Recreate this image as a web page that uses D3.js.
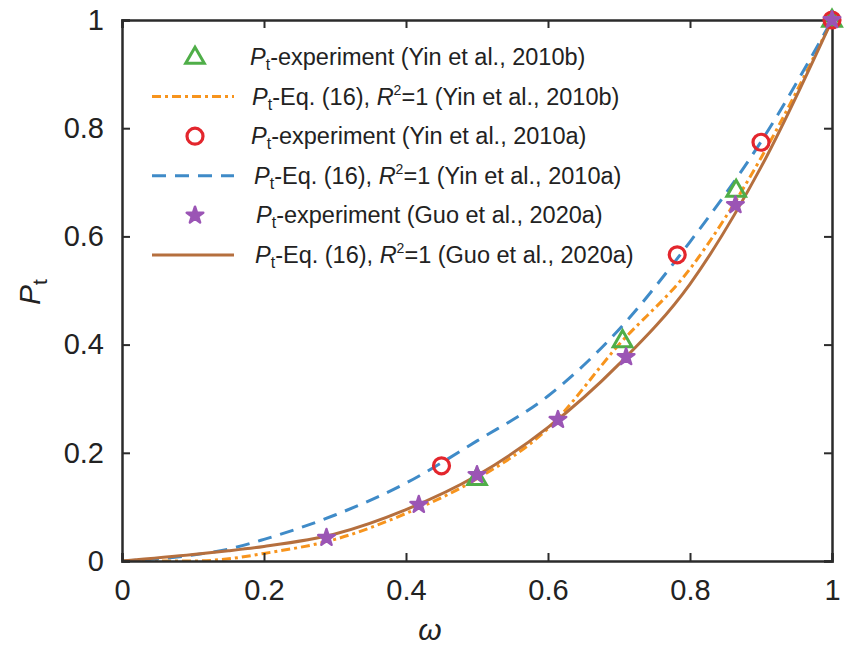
<!DOCTYPE html>
<html>
<head>
<script src="https://cdn.jsdelivr.net/npm/d3@7"></script>
<style>
  body { margin: 0; background: #fff; }
  text { font-family: "Liberation Sans", Arial, sans-serif; fill: #222; }
</style>
</head>
<body>
<div id="chart"></div>
<script>
// experiment points
const triOmega = [0.5, 0.705, 0.865, 1.0];
const triP     = [0.153, 0.408, 0.686, 1.0];
const circOmega = [0.45, 0.782, 0.90, 1.0];
const circP     = [0.176, 0.566, 0.774, 1.0];
const starOmega = [0.288, 0.418, 0.50, 0.614, 0.71, 0.864, 1.0];
const starP     = [0.043, 0.104, 0.159, 0.261, 0.377, 0.658, 1.0];

// fitted curves
const curveOmega = [0, 0.1, 0.15, 0.2, 0.3, 0.4, 0.5, 0.6, 0.7, 0.8, 0.9, 1.0];
const orangeP = [0, 0.0, 0.004, 0.014, 0.04, 0.088, 0.152, 0.245, 0.40, 0.54, 0.745, 1.0];
const blueP   = [0, 0.011, 0.022, 0.04, 0.085, 0.144, 0.222, 0.305, 0.428, 0.59, 0.775, 1.0];
const brownP  = [0, 0.012, 0.019, 0.027, 0.05, 0.095, 0.158, 0.247, 0.364, 0.512, 0.728, 1.0];

const xTicks = [0, 0.2, 0.4, 0.6, 0.8, 1];
const yTicks = [0, 0.2, 0.4, 0.6, 0.8, 1];

const width = 848, height = 648;
const margin = {left: 122, right: 16, top: 20, bottom: 87};

const green = "#4fae48", orange = "#f7941d", red = "#e3262d",
      blue = "#3f8bc8", purple = "#9b55b5", brown = "#b56f3e";

const svg = d3.select("#chart").append("svg")
    .attr("width", width)
    .attr("height", height);

const x = d3.scaleLinear().domain([0, 1]).range([margin.left, width - margin.right]);
const y = d3.scaleLinear().domain([0, 1]).range([height - margin.bottom, margin.top]);

// curves
const line = d3.line()
    .x(d => x(d[0]))
    .y(d => y(d[1]))
    .curve(d3.curveMonotoneX);

const fits = [
    {p: orangeP, color: orange, dash: "9,4,3,4", w: 3},
    {p: blueP, color: blue, dash: "14,9", w: 3},
    {p: brownP, color: brown, dash: null, w: 3}
];

// clip to the plot box
svg.append("clipPath").attr("id", "clip")
  .append("rect")
    .attr("x", x(0)).attr("y", y(1) - 2)
    .attr("width", x(1) - x(0) + 2).attr("height", y(0) - y(1) + 2);

svg.append("g").attr("clip-path", "url(#clip)")
  .selectAll("path")
  .data(fits)
  .join("path")
    .attr("d", d => line(curveOmega.map((o, i) => [o, d.p[i]])))
    .attr("fill", "none")
    .attr("stroke", d => d.color)
    .attr("stroke-width", d => d.w)
    .attr("stroke-dasharray", d => d.dash);

// axes box
const axisColor = "#2b2b2b";
svg.append("g")
    .attr("transform", `translate(0,${y(0)})`)
    .call(d3.axisBottom(x).tickValues(xTicks).tickSize(-8).tickFormat(d3.format("~g")).tickPadding(18))
    .call(g => g.selectAll("text").attr("font-size", 29));
svg.append("g")
    .attr("transform", `translate(0,${y(1)})`)
    .call(d3.axisTop(x).tickValues(xTicks).tickSize(-8).tickFormat(""));
svg.append("g")
    .attr("transform", `translate(${x(0)},0)`)
    .call(d3.axisLeft(y).tickValues(yTicks).tickSize(-8).tickFormat(d3.format("~g")).tickPadding(18))
    .call(g => g.selectAll("text").attr("font-size", 29));
svg.append("g")
    .attr("transform", `translate(${x(1)},0)`)
    .call(d3.axisRight(y).tickValues(yTicks).tickSize(-8).tickFormat(""));

svg.selectAll(".domain").attr("stroke", axisColor).attr("stroke-width", 2.5);
svg.selectAll(".tick line").attr("stroke", axisColor).attr("stroke-width", 2);
svg.selectAll(".tick text").attr("fill", "#333").attr("font-family", "Liberation Sans, Arial, sans-serif");

// markers
const triPath = d3.symbol().type(d3.symbolTriangle).size(150)();
const starPath = d3.symbol().type(d3.symbolStar).size(85)();

function drawTri(g, cx, cy) {
    g.append("path").attr("d", triPath)
        .attr("transform", `translate(${cx},${cy + 1})`)
        .attr("fill", "none").attr("stroke", green).attr("stroke-width", 3);
}
function drawCirc(g, cx, cy) {
    g.append("circle").attr("cx", cx).attr("cy", cy).attr("r", 8)
        .attr("fill", "none").attr("stroke", red).attr("stroke-width", 3.2);
}
function drawStar(g, cx, cy) {
    g.append("path").attr("d", starPath)
        .attr("transform", `translate(${cx},${cy})`)
        .attr("fill", purple).attr("stroke", purple).attr("stroke-width", 2.5)
        .attr("stroke-linejoin", "round");
}

const marks = svg.append("g");
triOmega.forEach((o, i) => drawTri(marks, x(o), y(triP[i])));
circOmega.forEach((o, i) => drawCirc(marks, x(o), y(circP[i])));
starOmega.forEach((o, i) => drawStar(marks, x(o), y(starP[i])));

// legend
const legendRows = [
    {type: "tri", text: "-experiment (Yin et al., 2010b)"},
    {type: "line", fit: 0, text: "-Eq. (16), ", r2: true, tail: "=1 (Yin et al., 2010b)"},
    {type: "circ", text: "-experiment (Yin et al., 2010a)"},
    {type: "line", fit: 1, text: "-Eq. (16), ", r2: true, tail: "=1 (Yin et al., 2010a)"},
    {type: "star", text: "-experiment (Guo et al., 2020a)"},
    {type: "line", fit: 2, text: "-Eq. (16), ", r2: true, tail: "=1 (Guo et al., 2020a)"}
];
const legendX = [250, 252, 251, 254, 256, 255];

const legend = svg.append("g");
legendRows.forEach((r, i) => {
    const cy = 57 + i * 39.6;
    if (r.type === "tri") drawTri(legend, 195, cy);
    if (r.type === "circ") drawCirc(legend, 195, cy);
    if (r.type === "star") drawStar(legend, 195, cy);
    if (r.type === "line") {
        const f = fits[r.fit];
        legend.append("line")
            .attr("x1", 152).attr("x2", 234).attr("y1", cy).attr("y2", cy)
            .attr("stroke", f.color).attr("stroke-width", f.w)
            .attr("stroke-dasharray", f.dash);
    }
    const t = legend.append("text")
        .attr("x", legendX[i]).attr("y", cy + 8)
        .attr("font-size", 23.5);
    t.append("tspan").attr("font-style", "italic").text("P");
    t.append("tspan").attr("font-size", 16).attr("dy", 5).text("t");
    t.append("tspan").attr("dy", -5).text(r.text);
    if (r.r2) {
        t.append("tspan").attr("font-style", "italic").text("R");
        t.append("tspan").attr("font-size", 14).attr("dy", -10).text("2");
        t.append("tspan").attr("dy", 10).text(r.tail);
    }
});

// axis titles
svg.append("text")
    .attr("x", 430).attr("y", 640)
    .attr("text-anchor", "middle")
    .attr("font-size", 30).attr("font-style", "italic")
    .text("ω");

const yl = svg.append("text")
    .attr("transform", "translate(40,292) rotate(-90)")
    .attr("text-anchor", "middle")
    .attr("font-size", 30);
yl.append("tspan").attr("font-style", "italic").text("P");
yl.append("tspan").attr("font-size", 21).attr("dy", 7).text("t");
</script>
</body>
</html>
